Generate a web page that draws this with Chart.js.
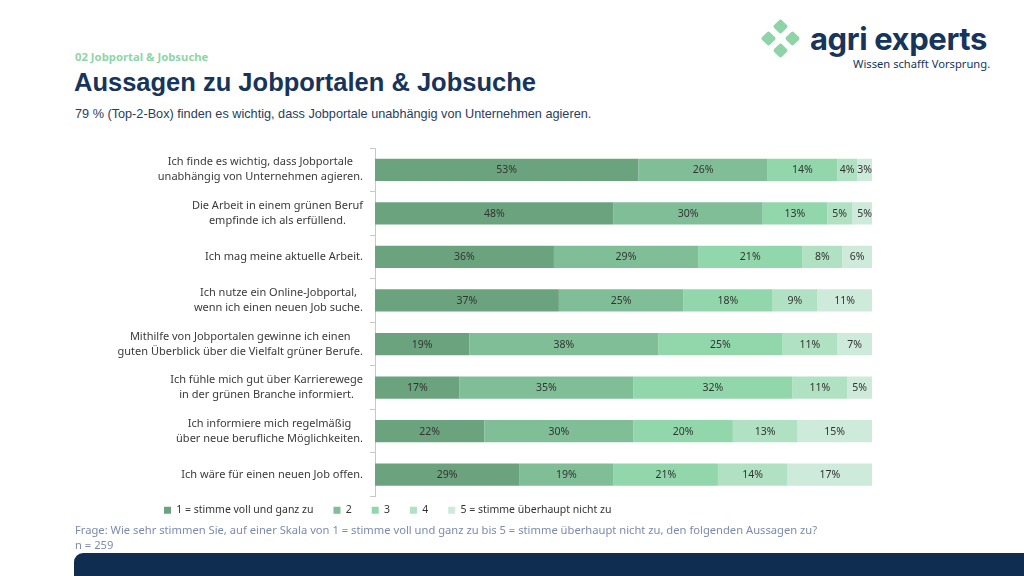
<!DOCTYPE html>
<html lang="de">
<head>
<meta charset="utf-8">
<script src="https://cdn.jsdelivr.net/npm/chart.js@4.4.1/dist/chart.umd.min.js"></script>
<style>
  html, body { margin: 0; padding: 0; background: #fff; }
  #page { position: relative; width: 1024px; height: 576px; overflow: hidden; font-family: "Liberation Sans", Arial, sans-serif; }
  .abs { position: absolute; white-space: nowrap; }
  #section { left: 75px; top: 49px; font: 700 11.3px "Noto Sans", sans-serif; color: #90d5a9; }
  #title { left: 74px; top: 68px; font: 700 25.5px "Liberation Sans", Arial, sans-serif; color: #17345a; }
  #subtitle { left: 75px; top: 107px; font: 12.7px "Liberation Sans", Arial, sans-serif; color: #2b3d5a; }
  #brand { left: 810px; top: 20px; font: 700 31px "Inter", sans-serif; color: #17345a; letter-spacing: -0.4px; }
  #claim { left: 853px; top: 56px; font: 11.2px "Noto Sans", sans-serif; color: #17345a; }
  #question { left: 75px; top: 522px; font: 11.2px "Noto Sans", sans-serif; color: #7c8bab; }
  #nsize { left: 75px; top: 537px; font: 11.2px "Noto Sans", sans-serif; color: #7c8bab; }
  #footbar { position: absolute; left: 74px; top: 553px; width: 960px; height: 40px; background: #0f2d50; border-radius: 9px 0 0 0; }
  #logo { position: absolute; left: 758px; top: 17px; }
  #chartBox { position: absolute; left: 60px; top: 140px; width: 830px; height: 400px; }
</style>
</head>
<body>
<div id="page">
  <div id="section" class="abs">02 Jobportal &amp; Jobsuche</div>
  <div id="title" class="abs">Aussagen zu Jobportalen &amp; Jobsuche</div>
  <div id="subtitle" class="abs">79 % (Top-2-Box) finden es wichtig, dass Jobportale unabhängig von Unternehmen agieren.</div>

  <svg id="logo" width="46" height="44" viewBox="0 0 46 44">
    <g fill="#8fd4a8">
      <rect x="17" y="4" width="11" height="11" rx="2" transform="rotate(45 22.5 9.5)"/>
      <rect x="5" y="16" width="11" height="11" rx="2" transform="rotate(45 10.5 21.5)"/>
      <rect x="29" y="16" width="11" height="11" rx="2" transform="rotate(45 34.5 21.5)"/>
      <rect x="17" y="28" width="11" height="11" rx="2" transform="rotate(45 22.5 33.5)"/>
    </g>
  </svg>
  <div id="brand" class="abs">agri experts</div>
  <div id="claim" class="abs">Wissen schafft Vorsprung.</div>

  <div id="chartBox"><canvas id="chart"></canvas></div>

  <div id="question" class="abs">Frage: Wie sehr stimmen Sie, auf einer Skala von 1 = stimme voll und ganz zu bis 5 = stimme überhaupt nicht zu, den folgenden Aussagen zu?</div>
  <div id="nsize" class="abs">n = 259</div>
  <div id="footbar"></div>
</div>

<script>
// statements (y categories), one array of lines per bar
const statements = [
  ["Ich finde es wichtig, dass Jobportale", "unabhängig von Unternehmen agieren."],
  ["Die Arbeit in einem grünen Beruf", "empfinde ich als erfüllend."],
  ["Ich mag meine aktuelle Arbeit."],
  ["Ich nutze ein Online-Jobportal,", "wenn ich einen neuen Job suche."],
  ["Mithilfe von Jobportalen gewinne ich einen", "guten Überblick über die Vielfalt grüner Berufe."],
  ["Ich fühle mich gut über Karrierewege", "in der grünen Branche informiert."],
  ["Ich informiere mich regelmäßig", "über neue berufliche Möglichkeiten."],
  ["Ich wäre für einen neuen Job offen."]
]

const scaleLabels = [
  "1 = stimme voll und ganz zu",
  "2",
  "3",
  "4",
  "5 = stimme überhaupt nicht zu"
]

// shares in percent, per answer option
const answer1 = [53, 48, 36, 37, 19, 17, 22, 29]
const answer2 = [26, 30, 29, 25, 38, 35, 30, 19]
const answer3 = [14, 13, 21, 18, 25, 32, 20, 21]
const answer4 = [4, 5, 8, 9, 11, 11, 13, 14]
const answer5 = [3, 5, 6, 11, 7, 5, 15, 17]

const seriesColors = ["#6ca37f", "#80be98", "#92d7ac", "#b0e1c3", "#cdeada"]

const labelFont = '11px "Noto Sans", sans-serif'

// y labels: block right aligned, lines centred inside the block
const statementLabels = {
  id: "statementLabels",
  afterDraw(chart) {
    const ctx = chart.ctx
    const y = chart.scales.y
    const right = 303
    const lineHeight = 15
    ctx.save()
    ctx.font = labelFont
    ctx.fillStyle = "#3a3a3a"
    ctx.textAlign = "center"
    ctx.textBaseline = "middle"
    statements.forEach((lines, i) => {
      const blockWidth = Math.max(...lines.map((l) => ctx.measureText(l).width))
      const cx = right - blockWidth / 2
      const cy = y.getPixelForValue(i)
      const top = cy - ((lines.length - 1) * lineHeight) / 2
      lines.forEach((line, k) => ctx.fillText(line, cx, top + k * lineHeight))
    })
    ctx.restore()
  }
}

// percentage text in the middle of every segment
const segmentLabels = {
  id: "segmentLabels",
  afterDatasetsDraw(chart) {
    const ctx = chart.ctx
    ctx.save()
    ctx.font = '10.5px "Noto Sans", sans-serif'
    ctx.fillStyle = "#333333"
    ctx.textAlign = "center"
    ctx.textBaseline = "middle"
    chart.data.datasets.forEach((ds, d) => {
      chart.getDatasetMeta(d).data.forEach((bar, i) => {
        const x = (bar.x + bar.base) / 2
        ctx.fillText(ds.data[i] + "%", x, bar.y + 0.5)
      })
    })
    ctx.restore()
  }
}

// move the legend under the labels like in the slide
const legendPlacement = {
  id: "legendPlacement",
  afterLayout(chart) {
    const lg = chart.legend
    const w = lg.width
    lg.left = 84
    lg.right = 84 + w
    lg.top = 345
    lg.bottom = 345 + lg.height
  }
}

const ctx = document.getElementById("chart").getContext("2d")
new Chart(ctx, {
  type: "bar",
  data: {
    labels: statements.map((l) => l.join(" ")),
    datasets: [answer1, answer2, answer3, answer4, answer5].map((values, i) => ({
      label: scaleLabels[i],
      data: values,
      backgroundColor: seriesColors[i],
      borderWidth: 0,
      categoryPercentage: 1,
      barPercentage: 0.51
    }))
  },
  options: {
    indexAxis: "y",
    responsive: true,
    maintainAspectRatio: false,
    animation: false,
    layout: { padding: { top: 8, bottom: 3, left: 0, right: 18 } },
    scales: {
      x: {
        stacked: true,
        min: 0,
        max: 100,
        display: false
      },
      y: {
        stacked: true,
        afterFit(scale) {
          scale.width = 315
        },
        ticks: { display: false },
        grid: {
          offset: true,
          drawOnChartArea: false,
          drawTicks: true,
          tickLength: 5,
          color: "#c8c8c8"
        },
        border: { display: true, color: "#c8c8c8" }
      }
    },
    plugins: {
      tooltip: { enabled: false },
      legend: {
        position: "bottom",
        align: "start",
        labels: {
          boxWidth: 7,
          boxHeight: 7,
          padding: 20,
          color: "#333333",
          font: { family: '"Noto Sans", sans-serif', size: 10.5 }
        }
      }
    }
  },
  plugins: [statementLabels, segmentLabels, legendPlacement]
})
</script>
</body>
</html>
